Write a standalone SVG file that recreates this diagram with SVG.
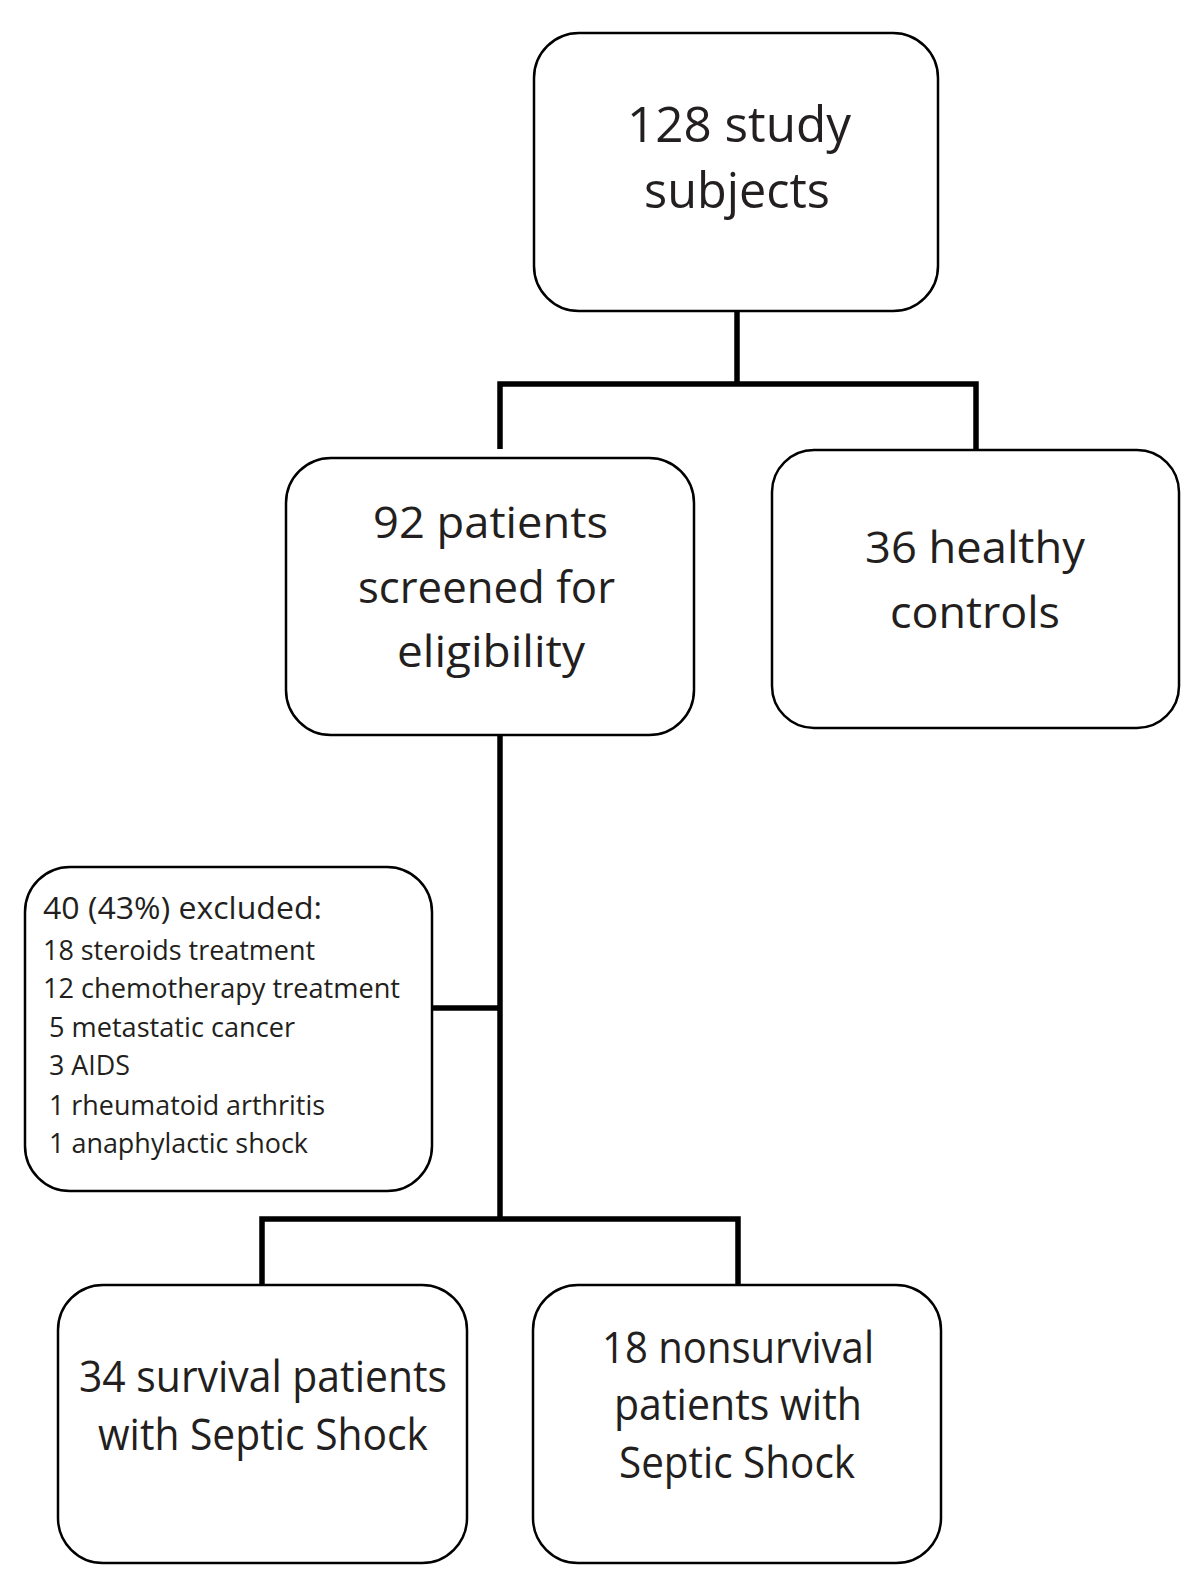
<svg xmlns="http://www.w3.org/2000/svg" width="1200" height="1594" viewBox="0 0 1200 1594">
<style>
.box{fill:#fff;stroke:#000;stroke-width:2.5}
.conn{fill:none;stroke:#000;stroke-width:5.5;stroke-linejoin:miter;stroke-linecap:butt}
text{font-family:"Open Sans","Noto Sans","Liberation Sans",sans-serif;fill:#231f20}
.t50{font-size:50px}
.t44{font-size:44px}
.t43{font-size:43px}
.t31{font-size:31px}
.t27{font-size:27px}
</style>
<rect width="1200" height="1594" fill="#fff"/>
<g id="connectors">
<path class="conn" d="M737 311 V384"/>
<path class="conn" d="M500 449 V384 H976 V450"/>
<path class="conn" d="M500 728 V1219"/>
<path class="conn" d="M432 1008 H500"/>
<path class="conn" d="M262 1285 V1219 H738 V1285"/>
</g>
<g id="node-study-subjects">
<rect class="box" x="534" y="33" width="404" height="278" rx="45" ry="45"/>
<text class="t50" x="627" y="142" textLength="224" lengthAdjust="spacingAndGlyphs">128 study</text>
<text class="t50" x="644" y="208" textLength="186" lengthAdjust="spacingAndGlyphs">subjects</text>
</g>
<g id="node-screened">
<rect class="box" x="286" y="458" width="408" height="277" rx="45" ry="45"/>
<text class="t44" x="373" y="538" textLength="235" lengthAdjust="spacingAndGlyphs">92 patients</text>
<text class="t44" x="358" y="603" textLength="257" lengthAdjust="spacingAndGlyphs">screened for</text>
<text class="t44" x="397" y="667" textLength="188" lengthAdjust="spacingAndGlyphs">eligibility</text>
</g>
<g id="node-healthy">
<rect class="box" x="772" y="450" width="407" height="278" rx="42" ry="42"/>
<text class="t44" x="865" y="563" textLength="220" lengthAdjust="spacingAndGlyphs">36 healthy</text>
<text class="t44" x="890" y="628" textLength="170" lengthAdjust="spacingAndGlyphs">controls</text>
</g>
<g id="node-excluded">
<rect class="box" x="25" y="867" width="407" height="324" rx="45" ry="45"/>
<text class="t31" x="43" y="919" textLength="279" lengthAdjust="spacingAndGlyphs">40 (43%) excluded:</text>
<text class="t27" x="43" y="960" textLength="272" lengthAdjust="spacingAndGlyphs">18 steroids treatment</text>
<text class="t27" x="43" y="998" textLength="357" lengthAdjust="spacingAndGlyphs">12 chemotherapy treatment</text>
<text class="t27" x="49" y="1037" textLength="246" lengthAdjust="spacingAndGlyphs">5 metastatic cancer</text>
<text class="t27" x="49" y="1075" textLength="81" lengthAdjust="spacingAndGlyphs">3 AIDS</text>
<text class="t27" x="49" y="1115" textLength="276" lengthAdjust="spacingAndGlyphs">1 rheumatoid arthritis</text>
<text class="t27" x="49" y="1153" textLength="259" lengthAdjust="spacingAndGlyphs">1 anaphylactic shock</text>
</g>
<g id="node-survival">
<rect class="box" x="58" y="1285" width="409" height="278" rx="45" ry="45"/>
<text class="t43" x="79" y="1392" textLength="368" lengthAdjust="spacingAndGlyphs">34 survival patients</text>
<text class="t43" x="98" y="1450" textLength="330" lengthAdjust="spacingAndGlyphs">with Septic Shock</text>
</g>
<g id="node-nonsurvival">
<rect class="box" x="533" y="1285" width="408" height="278" rx="45" ry="45"/>
<text class="t43" x="602" y="1363" textLength="272" lengthAdjust="spacingAndGlyphs">18 nonsurvival</text>
<text class="t43" x="614" y="1420" textLength="248" lengthAdjust="spacingAndGlyphs">patients with</text>
<text class="t43" x="619" y="1478" textLength="236" lengthAdjust="spacingAndGlyphs">Septic Shock</text>
</g>
</svg>
